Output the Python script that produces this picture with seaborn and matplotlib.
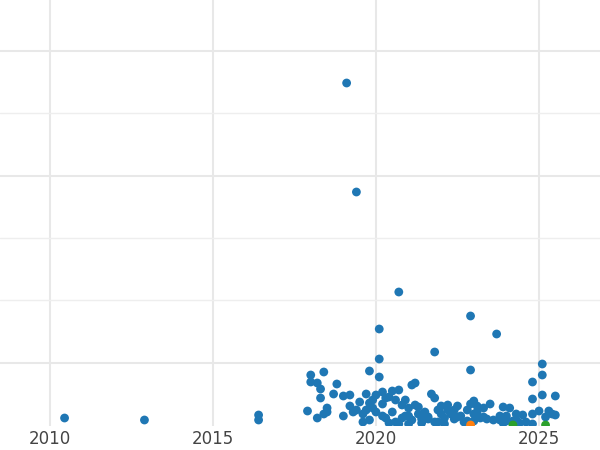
import matplotlib
matplotlib.use("Agg")
import matplotlib.pyplot as plt
import seaborn as sns
import pandas as pd

# x = year, y = value (arbitrary units)
blue_x = [2010.45, 2012.9, 2016.4, 2016.4, 2019.1, 2019.4, 2020.7, 2022.9, 2023.7, 2020.1,
          2021.8, 2020.1, 2022.9, 2025.1, 2025.1, 2019.8, 2020.1, 2018.4, 2018.0, 2018.8,
          2024.8, 2021.2, 2021.1, 2018.0, 2018.2, 2018.3, 2024.8, 2025.5, 2025.1, 2017.9,
          2018.3, 2018.5, 2018.7, 2019.0, 2019.2, 2019.3, 2019.5, 2019.7, 2019.8, 2019.9,
          2020.0, 2020.2, 2020.3, 2020.4, 2020.5, 2020.6, 2020.7, 2020.8, 2020.9, 2021.0,
          2021.2, 2021.3, 2021.5, 2021.7, 2021.8, 2021.9, 2022.0, 2022.2, 2022.3, 2022.4,
          2022.5, 2022.8, 2022.9, 2023.0, 2023.1, 2023.3, 2023.5, 2023.8, 2023.9, 2024.1,
          2024.3, 2024.5, 2024.8, 2025.0, 2025.3, 2025.5, 2018.2, 2018.5, 2019.0, 2019.4,
          2019.8, 2020.3, 2020.6, 2021.0, 2021.4, 2021.8, 2022.1, 2022.5, 2023.0, 2023.4,
          2023.8, 2024.2, 2024.8, 2025.2, 2020.0, 2020.9, 2021.6, 2022.3, 2023.2, 2024.0,
          2020.7, 2021.9, 2019.6, 2018.4, 2022.7, 2024.4,
          2019.2, 2019.6, 2019.9, 2020.2, 2020.4, 2020.5, 2020.8, 2021.1, 2021.3, 2021.4,
          2021.6, 2022.0, 2022.2, 2022.4, 2022.6, 2022.8, 2023.1, 2023.3, 2023.6, 2023.9,
          2024.0, 2024.3, 2024.6, 2025.4, 2019.7, 2020.2, 2021.0, 2021.5, 2022.1, 2023.0]
blue_y = [8, 6, 11, 6, 343, 234, 134, 110, 92, 97,
          74, 67, 56, 62, 51, 55, 49, 54, 51, 42,
          44, 43, 41, 44, 43, 37, 27, 30, 31, 15,
          28, 18, 32, 30, 31, 14, 24, 32, 23, 26,
          31, 34, 28, 29, 35, 26, 36, 21, 26, 18,
          21, 19, 14, 32, 28, 16, 20, 21, 12, 16,
          20, 16, 22, 25, 20, 18, 22, 10, 19, 18,
          12, 11, 12, 15, 15, 11, 8, 14, 10, 16,
          6, 8, 4, 10, 7, 4, 8, 9, 5, 7,
          6, 5, 2, 9, 14, 10, 9, 13, 8, 5,
          2, 4, 4, 12, 4, 3,
          20, 12, 18, 22, 3, 14, 8, 6, 12, 3,
          7, 12, 16, 7, 10, 5, 14, 9, 6, 3,
          10, 6, 4, 12, 16, 10, 2, 8, 2, 12]
orange_x = [2022.9]
orange_y = [1]
green_x = [2024.2, 2025.2]
green_y = [1, 1]

df = pd.DataFrame({
    "year": blue_x + orange_x + green_x,
    "value": blue_y + orange_y + green_y,
    "group": ["a"] * len(blue_x) + ["b"] * len(orange_x) + ["c"] * len(green_x),
})

sns.set_style("whitegrid")
fig = plt.figure(figsize=(6, 4.5), dpi=100)
ax = fig.add_axes([0, 24 / 450, 1, 426 / 450])
sns.scatterplot(data=df, x="year", y="value", hue="group",
                palette=["#1f77b4", "#ff7f0e", "#2ca02c"], s=40,
                edgecolor="none", legend=False, ax=ax, clip_on=True)
ax.set_xlim(2008.47, 2026.87)
ax.set_ylim(0, 426)
ax.set_xticks([2010, 2015, 2020, 2025])
ax.set_yticks([63, 250, 375])
ax.set_yticks([126, 188, 313], minor=True)
ax.set_yticklabels([])
ax.tick_params(axis="y", length=0, which="both")
ax.tick_params(axis="x", length=0, labelsize=12, labelcolor="#444444", pad=3)
ax.grid(True, which="major", color="#e8e8e8", linewidth=1.5)
ax.grid(True, which="minor", axis="y", color="#eeeeee", linewidth=1.0)
ax.set_xlabel("")
ax.set_ylabel("")
for sp in ax.spines.values():
    sp.set_visible(False)
fig.savefig("out.png", dpi=100)
